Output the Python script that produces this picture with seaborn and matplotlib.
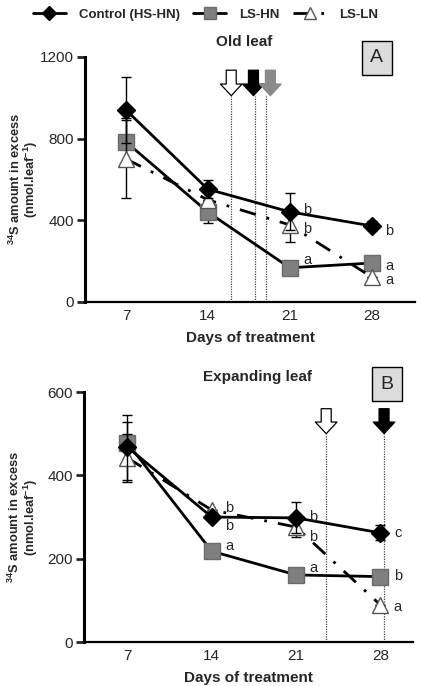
import numpy as np
import pandas as pd
import matplotlib
matplotlib.use('Agg')
import matplotlib.pyplot as plt
import seaborn as sns
from matplotlib.lines import Line2D

sns.set_theme(style='white')
plt.rcParams['font.family'] = ['Liberation Sans', 'DejaVu Sans']
plt.rcParams['mathtext.fontset'] = 'custom'
plt.rcParams['mathtext.rm'] = 'Liberation Sans'
plt.rcParams['mathtext.bf'] = 'Liberation Sans:bold'

# data
days = [7, 14, 21, 28]
series = ['Control (HS-HN)', 'LS-HN', 'LS-LN']

# panel A - old leaf
old_ctrl = [940, 552, 441, 372]
old_ctrl_err = [160, 45, 90, 22]
old_lshn = [784, 440, 167, 190]
old_lshn_err = [115, 55, 0, 0]
old_lsln = [700, 500, 377, 122]
old_lsln_err = [190, 0, 85, 0]
old_letters_ctrl = ['', '', 'b', 'b']
old_letters_lshn = ['', '', 'a', 'a']
old_letters_lsln = ['', '', 'b', 'a']
old_letter_y_ctrl = [0, 0, 450, 348]
old_letter_y_lshn = [0, 0, 206, 176]
old_letter_y_lsln = [0, 0, 358, 108]
old_line_days = [16, 18, 19]
old_arrow_days = [16, 17.9, 19.35]
old_arrow_colors = ['white', 'black', '#8a8a8a']

# panel B - expanding leaf
exp_ctrl = [468, 300, 298, 262]
exp_ctrl_err = [78, 0, 37, 18]
exp_lshn = [478, 218, 161, 157]
exp_lshn_err = [50, 0, 0, 0]
exp_lsln = [442, 317, 276, 89]
exp_lsln_err = [58, 0, 24, 0]
exp_letters_ctrl = ['', 'b', 'b', 'c']
exp_letters_lshn = ['', 'a', 'a', 'b']
exp_letters_lsln = ['', 'b', 'b', 'a']
exp_letter_y_ctrl = [0, 278, 300, 262]
exp_letter_y_lshn = [0, 230, 178, 158]
exp_letter_y_lsln = [0, 322, 252, 84]
exp_line_days = [23.5, 28.3]
exp_arrow_days = [23.5, 28.3]
exp_arrow_colors = ['white', 'black']

styles = {
    'Control (HS-HN)': dict(color='black', marker='D', markersize=9.5, markerfacecolor='black',
                            markeredgecolor='black', linestyle='-', zorder=5),
    'LS-HN': dict(color='black', marker='s', markersize=12, markerfacecolor='#7f7f7f',
                  markeredgecolor='#6a6a6a', linestyle='-', zorder=3),
    'LS-LN': dict(color='black', marker='^', markersize=12, markerfacecolor='white',
                  markeredgecolor='#555555', dashes=(6, 4, 1, 4), zorder=4),
}

fig = plt.figure(figsize=(4.24, 6.86), dpi=100)
axA = fig.add_axes([0.2005, 0.560, 0.778, 0.357])
axB = fig.add_axes([0.198, 0.0641, 0.776, 0.3644])


def draw_panel(ax, vals, errs, letters, letter_ys, ylim, yticks, xlim, line_days,
               arrow_days, arrow_colors, arrow_top, arrow_bot, title, tag):
    for name, v, e in zip(series, vals, errs):
        st = dict(styles[name])
        z = st.pop('zorder')
        dash = st.pop('dashes', None)
        df = pd.DataFrame({'day': days, 'val': v})
        sns.lineplot(data=df, x='day', y='val', ax=ax, linewidth=2, zorder=z,
                     markeredgewidth=1, **st)
        if dash is not None:
            ax.lines[-1].set_dashes(dash)
        ax.errorbar(days, v, yerr=e, fmt='none', ecolor='black', elinewidth=1,
                    capsize=3.5, capthick=1, zorder=z - 0.5)
    for labs, ys in zip(letters, letter_ys):
        for d, l, y in zip(days, labs, ys):
            if l:
                ax.annotate(l, (d, y), xytext=(12.5, 0), textcoords='offset points',
                            ha='center', va='center', fontsize=10.5, zorder=8)
    for d in line_days:
        ax.plot([d, d], [0, arrow_bot], color='#444444', linestyle=(0, (1, 1)),
                linewidth=0.9, zorder=2)
    for d, c in zip(arrow_days, arrow_colors):
        ax.annotate('', xy=(d, arrow_bot), xytext=(d, arrow_top),
                    arrowprops=dict(arrowstyle='simple,head_length=0.7,head_width=1.3,tail_width=0.6',
                                    fc=c, ec='black' if c != '#8a8a8a' else '#8a8a8a', lw=0.9,
                                    shrinkA=0, shrinkB=0),
                    annotation_clip=False, zorder=6)
    ax.set_xlim(*xlim)
    ax.set_ylim(*ylim)
    ax.set_xticks(days)
    ax.set_yticks(yticks)
    ax.tick_params(axis='x', length=0, labelsize=11, pad=5)
    ax.tick_params(axis='y', length=6, width=2, direction='out', labelsize=11, pad=2, left=True)
    sns.despine(ax=ax)
    ax.spines['left'].set_linewidth(2.2)
    ax.spines['bottom'].set_linewidth(1.6)
    ax.spines['left'].set_color('black')
    ax.spines['bottom'].set_color('black')
    ax.set_xlabel('Days of treatment', fontsize=11, fontweight='bold', labelpad=6)
    ax.set_ylabel('$\\mathbf{^{34}}$S amount in excess\n(nmol.leaf$\\mathbf{^{-1}}$)',
                  fontsize=9.3, fontweight='bold', linespacing=0.95)
    ax.yaxis.set_label_coords(-0.135, 0.5)
    ax.text(title[1], title[2], title[0], transform=ax.transAxes, ha='center', va='center',
            fontsize=11, fontweight='bold')
    ax.text(tag[1], tag[2], tag[0], transform=ax.transAxes, ha='center', va='center',
            fontsize=14, bbox=dict(boxstyle='square,pad=0.45', fc='#dcdcdc', ec='black', lw=1))


draw_panel(axA, [old_ctrl, old_lshn, old_lsln], [old_ctrl_err, old_lshn_err, old_lsln_err],
           [old_letters_ctrl, old_letters_lshn, old_letters_lsln],
           [old_letter_y_ctrl, old_letter_y_lshn, old_letter_y_lsln],
           (0, 1200), [0, 400, 800, 1200], (3.5, 31.7), old_line_days,
           old_arrow_days, old_arrow_colors, 1135, 1010,
           ('Old leaf', 0.482, 1.061), ('A', 0.885, 0.996))
draw_panel(axB, [exp_ctrl, exp_lshn, exp_lsln], [exp_ctrl_err, exp_lshn_err, exp_lsln_err],
           [exp_letters_ctrl, exp_letters_lshn, exp_letters_lsln],
           [exp_letter_y_ctrl, exp_letter_y_lshn, exp_letter_y_lsln],
           (0, 600), [0, 200, 400, 600], (3.4, 30.7), exp_line_days,
           exp_arrow_days, exp_arrow_colors, 560, 500,
           ('Expanding leaf', 0.526, 1.06), ('B', 0.921, 1.032))

handles = []
for name in series:
    st = dict(styles[name])
    st.pop('zorder')
    dash = st.pop('dashes', None)
    st['markersize'] = st['markersize'] * 0.7
    h = Line2D([], [], linewidth=2, **st)
    if dash is not None:
        h.set_dashes(dash)
    handles.append(h)
fig.legend(handles, series, loc='upper center', bbox_to_anchor=(0.485, 1.005), ncol=3,
           frameon=False, handlelength=2.5, columnspacing=1.0, handletextpad=1.0,
           prop={'size': 9.5, 'weight': 'bold'})

fig.savefig('out.png', dpi=100)
